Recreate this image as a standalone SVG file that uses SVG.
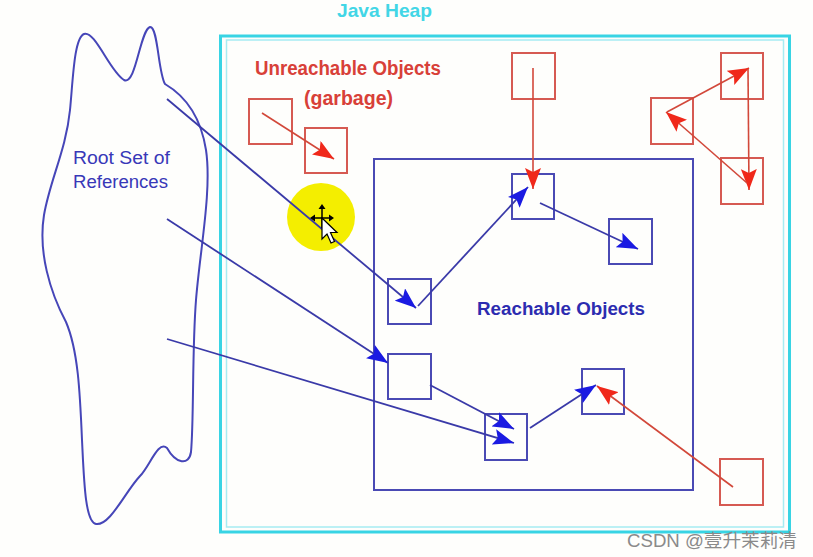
<svg xmlns="http://www.w3.org/2000/svg" width="813" height="557" viewBox="0 0 813 557">
<style>
.bg{fill:#fefefc}
.heap{fill:none;stroke:#38d4e4;stroke-width:3}
.heapin{fill:none;stroke:#a6ecf2;stroke-width:1.5}
.rbox{fill:none;stroke:#d65a52;stroke-width:2}
.bbox{fill:none;stroke:#4a4ab4;stroke-width:2}
.region{fill:none;stroke:#4a4ab4;stroke-width:2}
.cloud{fill:none;stroke:#4646b8;stroke-width:2}
.bl{stroke:#3a3aa8;stroke-width:1.8;fill:none;marker-end:url(#ab)}
.rl{stroke:#d2483a;stroke-width:1.6;fill:none;marker-end:url(#ar)}
.t{font-family:"Liberation Sans",Arial,sans-serif}
.tb{font-family:"Liberation Sans",Arial,sans-serif;font-weight:bold}
</style>
<defs>
<marker id="ab" markerUnits="userSpaceOnUse" markerWidth="22" markerHeight="16" refX="21" refY="8" orient="auto" viewBox="0 0 22 16">
<path d="M0,0 L21,8 L0,16 L4,8 Z" fill="#1a1ae2"/>
</marker>
<marker id="ar" markerUnits="userSpaceOnUse" markerWidth="22" markerHeight="16" refX="21" refY="8" orient="auto" viewBox="0 0 22 16">
<path d="M0,0 L21,8 L0,16 L4,8 Z" fill="#f0281a"/>
</marker>
</defs>
<rect class="bg" x="0" y="0" width="813" height="557"/>

<g id="java-heap">
<rect class="heap" x="220.5" y="36" width="569" height="496"/>
<rect class="heapin" x="226.5" y="40" width="557" height="487"/>
<text class="tb" x="337" y="17" font-size="18.5" fill="#42d6e6" textLength="95" lengthAdjust="spacingAndGlyphs">Java Heap</text>
</g>

<g id="root-set">
<path class="cloud" d="M84,34 C95,30 110,72 124,80 C136,86 140,30 150,27 C158,26 158,72 165,84 C182,94 200,112 206,150 C212,190 200,250 196,300 C192,350 194,420 191,452 C189,466 176,464 167,448 C158,440 150,466 140,476 C125,492 110,526 96,524 C85,522 84,480 82,440 C80,392 78,350 66,322 C50,292 38,252 44,215 C50,180 66,150 70,110 C73,80 74,38 84,34 Z"/>
<text class="t" x="73" y="164" font-size="17.5" fill="#3838b8" textLength="97" lengthAdjust="spacingAndGlyphs">Root Set of</text>
<text class="t" x="73" y="188" font-size="17.5" fill="#3838b8" textLength="95" lengthAdjust="spacingAndGlyphs">References</text>
</g>

<g id="unreachable-label">
<text class="tb" x="255" y="75" font-size="20" fill="#d84038" textLength="186" lengthAdjust="spacingAndGlyphs">Unreachable Objects</text>
<text class="tb" x="304" y="105" font-size="20" fill="#d84038" textLength="89" lengthAdjust="spacingAndGlyphs">(garbage)</text>
</g>

<g id="reachable-region">
<rect class="region" x="374" y="159" width="319" height="331"/>
<text class="tb" x="477" y="315" font-size="18" fill="#2c2cb0" textLength="168" lengthAdjust="spacingAndGlyphs">Reachable Objects</text>
</g>

<g id="red-a"><rect class="rbox" x="249" y="99" width="43" height="45"/></g>
<g id="red-b"><rect class="rbox" x="305" y="128" width="42" height="45"/></g>
<g id="red-c"><rect class="rbox" x="512" y="53" width="43" height="46"/></g>
<g id="red-d"><rect class="rbox" x="721" y="53" width="42" height="46"/></g>
<g id="red-e"><rect class="rbox" x="651" y="98" width="42" height="46"/></g>
<g id="red-f"><rect class="rbox" x="721" y="158" width="42" height="46"/></g>
<g id="red-g"><rect class="rbox" x="720" y="459" width="43" height="46"/></g>

<g id="blue-1"><rect class="bbox" x="512" y="174" width="42" height="45"/></g>
<g id="blue-2"><rect class="bbox" x="609" y="219" width="43" height="45"/></g>
<g id="blue-3"><rect class="bbox" x="388" y="279" width="43" height="45"/></g>
<g id="blue-4"><rect class="bbox" x="388" y="354" width="43" height="45"/></g>
<g id="blue-5"><rect class="bbox" x="485" y="414" width="42" height="46"/></g>
<g id="blue-6"><rect class="bbox" x="582" y="369" width="42" height="45"/></g>

<g id="cursor-highlight">
<circle cx="321" cy="217" r="34" fill="#f4ee00"/>
</g>

<g id="connectors">
<line class="rl" x1="262" y1="113" x2="334" y2="159"/>
<line class="rl" x1="533" y1="68" x2="533" y2="189"/>
<line class="rl" x1="667" y1="112" x2="749" y2="68"/>
<line class="rl" x1="748" y1="69" x2="749" y2="190"/>
<line class="rl" x1="747" y1="183" x2="666" y2="112"/>
<line class="rl" x1="733" y1="487" x2="597" y2="386"/>
<line class="bl" x1="167" y1="99" x2="416" y2="308"/>
<line class="bl" x1="418" y1="306" x2="528" y2="187"/>
<line class="bl" x1="540" y1="203" x2="638" y2="249"/>
<line class="bl" x1="167" y1="219" x2="388" y2="363"/>
<line class="bl" x1="167" y1="339" x2="514" y2="443"/>
<line class="bl" x1="430" y1="385" x2="514" y2="429"/>
<line class="bl" x1="530" y1="428" x2="596" y2="385"/>
</g>

<g id="cursor">
<path d="M322,208 V228 M312,218 H332" stroke="#000" stroke-width="1.5"/>
<path d="M322,204 L318.5,209 L325.5,209 Z M310,218 L315,214.5 L315,221.5 Z M334,218 L329,214.5 L329,221.5 Z" fill="#000"/>
<path d="M322,218 L322,239 L327,234 L331,243 L334.5,241.5 L330.5,232.5 L337,232.5 Z" fill="#fff" stroke="#000" stroke-width="1.2"/>
</g>

<text class="t" x="627" y="547" font-size="18" fill="#8a8a8a" textLength="170" lengthAdjust="spacingAndGlyphs" style="font-family:'Liberation Sans','Noto Sans CJK SC',sans-serif">CSDN @壹升茉莉清</text>
</svg>
